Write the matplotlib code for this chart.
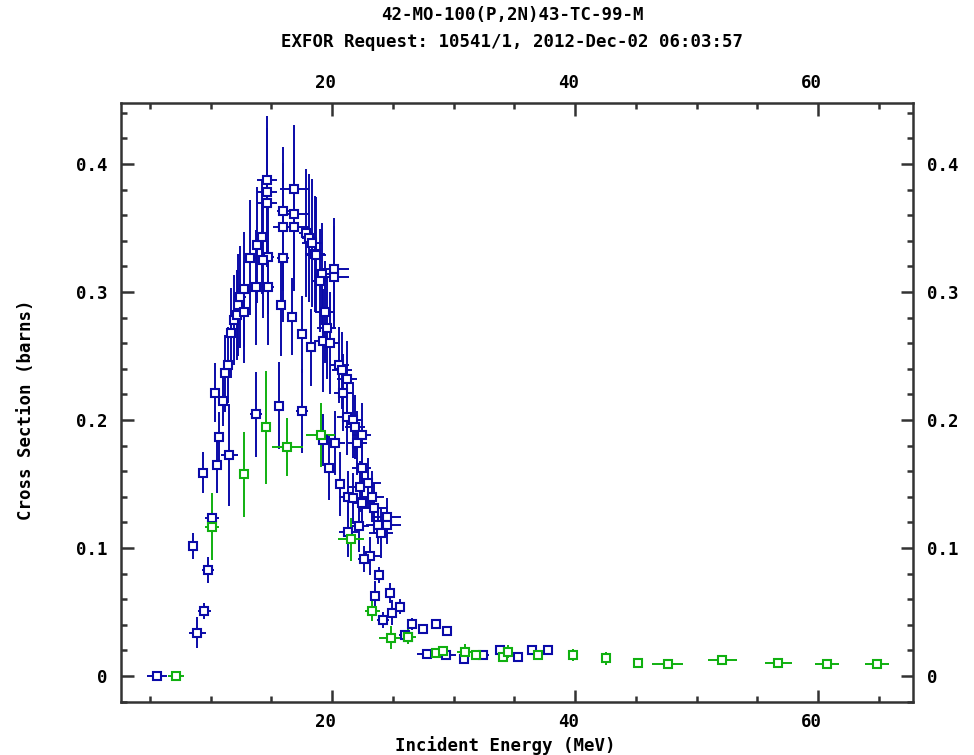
import matplotlib
matplotlib.use("Agg")
import matplotlib.pyplot as plt
from matplotlib.ticker import MultipleLocator, FuncFormatter
from matplotlib.transforms import ScaledTranslation

# blue data set: energy (MeV), cross section (b), energy error, cs error
blue_e = [5.6, 8.53, 8.91, 9.49, 9.77, 10.12, 9.41, 10.37, 10.51, 10.72, 11.05, 11.55,
          11.19, 11.42, 11.69, 11.93, 12.16, 12.29, 12.43, 12.76, 12.76, 13.74, 14.76,
          13.25, 14.76, 15.94, 13.8, 14.21, 14.35, 14.63, 14.63, 14.63, 16.9, 15.94,
          16.9, 15.94, 16.9, 17.86, 18.13, 18.33, 18.6, 18.68, 19.2, 19.01, 20.16,
          20.16, 19.42, 19.56, 19.28, 19.84, 15.8, 16.68, 17.51, 18.25, 20.6, 20.8,
          21.21, 20.93, 21.21, 21.75, 21.89, 22.44, 22.08, 20.25, 19.23, 19.78, 22.44,
          20.66, 22.99, 22.3, 21.34, 23.27, 21.75, 22.44, 23.46, 24.5, 23.81, 24.5,
          24.0, 22.25, 21.34, 23.13, 22.63, 23.89, 23.54, 24.77, 24.91, 24.22, 25.6,
          26.56, 27.51, 28.53, 29.49, 26.0, 26.28, 27.79, 29.38, 30.89, 32.45, 33.83,
          35.28, 36.49, 37.8, 13.77, 15.66, 17.51]
blue_cs = [0.0, 0.1016, 0.0338, 0.0508, 0.0826, 0.1232, 0.1588, 0.2213, 0.1648, 0.1865,
           0.2151, 0.1727, 0.2365, 0.243, 0.268, 0.278, 0.282, 0.290, 0.296, 0.2846,
           0.302, 0.3037, 0.3037, 0.3268, 0.3276, 0.3268, 0.3367, 0.3432, 0.325, 0.3875,
           0.3784, 0.3698, 0.3802, 0.3635, 0.361, 0.3508, 0.3508, 0.3459, 0.342, 0.338,
           0.3297, 0.329, 0.314, 0.309, 0.3177, 0.3115, 0.2846, 0.2721, 0.262, 0.2604,
           0.29, 0.2807, 0.267, 0.2568, 0.243, 0.239, 0.2318, 0.2213, 0.2026, 0.2,
           0.1948, 0.1883, 0.1818, 0.1818, 0.1844, 0.1627, 0.1627, 0.1498, 0.1505,
           0.1479, 0.14, 0.14, 0.1388, 0.1354, 0.131, 0.124, 0.118, 0.118, 0.112, 0.117,
           0.1127, 0.094, 0.0914, 0.079, 0.0625, 0.065, 0.0495, 0.0437, 0.0541, 0.0406,
           0.0365, 0.0404, 0.0354, 0.032, 0.0302, 0.0172, 0.0164, 0.0133, 0.0164,
           0.0203, 0.0151, 0.0203, 0.0203, 0.2045, 0.211, 0.207]
blue_de = [0.8, 0.2, 0.7, 0.55, 0.5, 0.55, 0.15, 0.1, 0.1, 0.3, 0.1, 0.7, 0.1, 0.1, 0.1,
           0.1, 0.1, 0.1, 0.5, 0.5, 0.5, 0.5, 0.5, 0.5, 0.5, 0.5, 0.4, 0.4, 0.4, 0.8, 0.8,
           0.8, 1.2, 0.5, 1.2, 0.8, 1.2, 0.6, 0.6, 0.8, 0.8, 0.8, 0.6, 0.6, 1.2, 1.2, 0.8,
           0.8, 0.8, 0.8, 0.1, 0.1, 0.1, 0.1, 0.8, 0.8, 0.8, 0.8, 0.8, 0.8, 0.8, 0.8, 0.8,
           0.8, 0.4, 0.3, 0.8, 0.3, 1.0, 1.0, 0.8, 1.0, 0.8, 0.8, 1.0, 1.2, 1.0, 1.2, 1.0,
           0.8, 0.8, 0.8, 0.5, 0.2, 0.3, 0.2, 0.4, 0.5, 0.3, 0.3, 0.3, 0.3, 0.3, 0.5, 0.3,
           0.8, 0.8, 0.3, 0.5, 0.3, 0.3, 0.3, 0.4, 0.5, 0.3, 0.5]
blue_dcs = [0.0, 0.010, 0.012, 0.006, 0.010, 0.004, 0.016, 0.023, 0.022, 0.02, 0.02,
            0.04, 0.03, 0.03, 0.035, 0.035, 0.035, 0.04, 0.04, 0.04, 0.045, 0.045,
            0.045, 0.045, 0.045, 0.05, 0.045, 0.045, 0.045, 0.05, 0.05, 0.05, 0.05,
            0.05, 0.05, 0.05, 0.05, 0.05, 0.05, 0.05, 0.045, 0.045, 0.04, 0.04, 0.04,
            0.04, 0.04, 0.04, 0.04, 0.04, 0.04, 0.03, 0.03, 0.03, 0.03, 0.03, 0.03, 0.03,
            0.03, 0.03, 0.025, 0.025, 0.025, 0.025, 0.02, 0.025, 0.025, 0.025, 0.02,
            0.02, 0.02, 0.02, 0.02, 0.02, 0.02, 0.015, 0.015, 0.015, 0.02, 0.02, 0.02,
            0.015, 0.01, 0.006, 0.012, 0.008, 0.01, 0.006, 0.006, 0.005, 0.004, 0.004,
            0.004, 0.004, 0.004, 0.002, 0.002, 0.002, 0.002, 0.002, 0.002, 0.002,
            0.002, 0.033, 0.034, 0.033]

# green data set
green_e = [7.16, 10.12, 12.78, 14.59, 16.3, 19.07, 21.56, 23.32, 24.86, 26.28, 28.53,
           29.11, 30.95, 31.85, 34.05, 34.46, 36.98, 39.86, 42.53, 45.21, 47.63, 52.12,
           56.73, 60.72, 64.83]
green_cs = [0.0, 0.1166, 0.1576, 0.1943, 0.1789, 0.1883, 0.1068, 0.0508, 0.0299, 0.0307,
            0.0177, 0.0198, 0.019, 0.0164, 0.0146, 0.019, 0.0164, 0.0164, 0.0138, 0.0099,
            0.0091, 0.0125, 0.0099, 0.0091, 0.0091]
green_de = [0.65, 0.55, 0.1, 0.4, 1.27, 1.2, 1.1, 0.65, 0.96, 0.65, 0.3, 0.3, 0.65, 0.35,
            0.3, 0.3, 0.3, 0.3, 0.3, 0.3, 1.27, 1.23, 1.1, 1.0, 1.0]
green_dcs = [0.0, 0.026, 0.033, 0.044, 0.023, 0.025, 0.017, 0.008, 0.009, 0.006, 0.004,
             0.004, 0.006, 0.004, 0.004, 0.005, 0.004, 0.005, 0.005, 0.004, 0.002, 0.002,
             0.002, 0.002, 0.002]

title1 = "42-MO-100(P,2N)43-TC-99-M"
title2 = "EXFOR Request: 10541/1, 2012-Dec-02 06:03:57"

plt.rcParams['font.family'] = 'DejaVu Sans Mono'
plt.rcParams['font.weight'] = 'bold'

fig = plt.figure(figsize=(9.74, 7.55), dpi=100)
ax = fig.add_axes([0.1242, 0.0702, 0.8132, 0.7934])

blue = '#0a0aa8'
green = '#10b010'
ax.errorbar(blue_e, blue_cs, xerr=blue_de, yerr=blue_dcs, fmt='s', color=blue,
            mfc='white', mec=blue, ms=5.5, mew=1.5, elinewidth=1.4, capsize=0)
ax.errorbar(green_e, green_cs, xerr=green_de, yerr=green_dcs, fmt='s', color=green,
            mfc='white', mec=green, ms=5.5, mew=1.5, elinewidth=1.4, capsize=0)

ax.set_xlim(2.63, 67.8)
ax.set_ylim(-0.0203, 0.4477)
ax.xaxis.set_major_locator(MultipleLocator(20))
ax.xaxis.set_minor_locator(MultipleLocator(5))
ax.yaxis.set_major_locator(MultipleLocator(0.1))
ax.yaxis.set_minor_locator(MultipleLocator(0.02))
ax.yaxis.set_major_formatter(FuncFormatter(lambda v, p: '0' if abs(v) < 1e-9 else '%.1f' % v))

ax.tick_params(which='both', direction='in', top=True, right=True,
               labeltop=True, labelright=True, width=1.8, color='#333333',
               labelsize=12.5)
ax.tick_params(which='major', length=9)
ax.tick_params(which='minor', length=4.5)
ax.tick_params(axis='x', pad=8)
ax.tick_params(axis='y', which='major', pad=10)
for s in ax.spines.values():
    s.set_linewidth(1.8)
    s.set_color('#333333')

# x tick labels sit a little left of their ticks in the original
shift = ScaledTranslation(-0.07, 0, fig.dpi_scale_trans)
for t in ax.xaxis.get_major_ticks():
    t.label1.set_transform(t.label1.get_transform() + shift)
    t.label2.set_transform(t.label2.get_transform() + shift)

ax.set_xlabel('Incident Energy (MeV)', fontsize=12.5, fontweight='bold')
ax.set_ylabel('Cross Section (barns)', fontsize=12.5, fontweight='bold')
ax.xaxis.set_label_coords(0.485, -0.057)
ax.yaxis.set_label_coords(-0.109, 0.4875)
fig.text(0.526, 0.98, title1, ha='center', va='center', fontsize=12.5, fontweight='bold')
fig.text(0.526, 0.944, title2, ha='center', va='center', fontsize=12.5, fontweight='bold')

plt.savefig('out.png', dpi=100)
